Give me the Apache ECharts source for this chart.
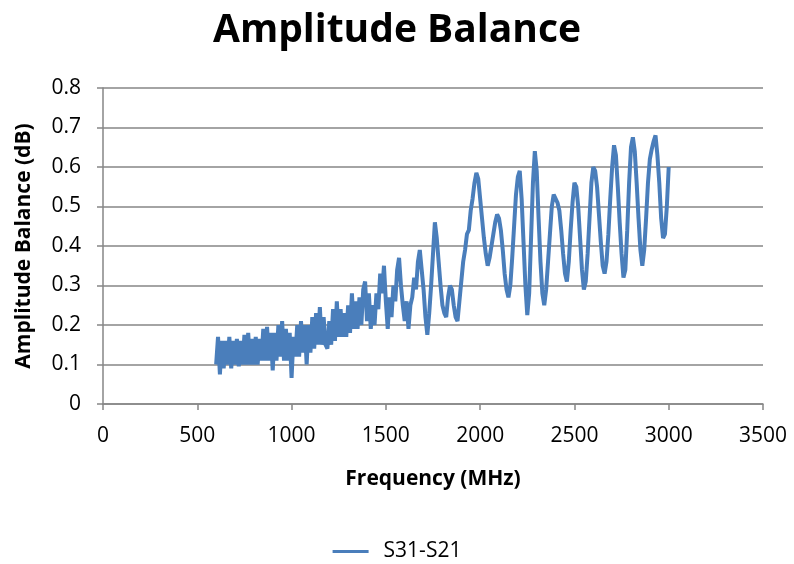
<!DOCTYPE html>
<html>
<head>
<meta charset="utf-8">
<script src="https://cdn.jsdelivr.net/npm/echarts@6/dist/echarts.min.js"></script>
<style>
  html, body { margin: 0; padding: 0; background: #fff; }
  #main { width: 794px; height: 564px; }
</style>
</head>
<body>
<div id="main"></div>
<script>
  // sweep: first frequency and step (MHz), one value per step
  var freqStart = 600;
  var freqStep = 10;

  // 600 .. 1500 MHz (noisy part)
  var balLow = [
    0.10, 0.17, 0.075, 0.16, 0.09, 0.16, 0.10, 0.17, 0.09, 0.16,
    0.10, 0.165, 0.095, 0.16, 0.10, 0.175, 0.10, 0.18, 0.10, 0.165,
    0.10, 0.17, 0.10, 0.165, 0.11, 0.19, 0.11, 0.195, 0.11, 0.18,
    0.085, 0.18, 0.11, 0.20, 0.12, 0.21, 0.11, 0.19, 0.11, 0.18,
    0.066, 0.17, 0.12, 0.20, 0.12, 0.21, 0.13, 0.20, 0.10, 0.20,
    0.13, 0.22, 0.14, 0.23, 0.15, 0.245, 0.15, 0.22, 0.15, 0.14,
    0.21, 0.15, 0.24, 0.16, 0.26, 0.17, 0.24, 0.17, 0.23, 0.17,
    0.25, 0.18, 0.28, 0.19, 0.26, 0.19, 0.27, 0.20, 0.29, 0.31,
    0.21, 0.28, 0.19, 0.25, 0.20, 0.28, 0.24, 0.33, 0.28, 0.35,
    0.26
  ];

  // 1510 .. 3000 MHz
  var balHigh = [
    0.19, 0.27, 0.22, 0.30, 0.26, 0.34, 0.37, 0.30, 0.25, 0.21,
    0.26, 0.19, 0.25, 0.27, 0.32, 0.29, 0.36, 0.39, 0.34, 0.29,
    0.22, 0.175, 0.23, 0.30, 0.38, 0.46, 0.42, 0.36, 0.30, 0.25,
    0.23, 0.22, 0.27, 0.30, 0.29, 0.25, 0.22, 0.21, 0.26, 0.31,
    0.36, 0.39, 0.43, 0.44, 0.49, 0.52, 0.56, 0.585, 0.57, 0.52,
    0.47, 0.42, 0.38, 0.35, 0.37, 0.40, 0.43, 0.46, 0.48, 0.47,
    0.44, 0.39, 0.33, 0.29, 0.27, 0.30, 0.37, 0.45, 0.53, 0.575,
    0.59, 0.52, 0.41, 0.30, 0.225, 0.28, 0.42, 0.56, 0.64, 0.59,
    0.47, 0.36, 0.28, 0.25, 0.29, 0.36, 0.43, 0.50, 0.53, 0.53,
    0.51, 0.49, 0.44, 0.38, 0.33, 0.31, 0.36, 0.44, 0.51, 0.56,
    0.55, 0.50, 0.42, 0.34, 0.29, 0.31, 0.38, 0.47, 0.56, 0.60,
    0.59, 0.55, 0.48, 0.41, 0.35, 0.33, 0.36, 0.43, 0.52, 0.60,
    0.655, 0.63, 0.55, 0.46, 0.38, 0.32, 0.34, 0.44, 0.56, 0.65,
    0.675, 0.64, 0.56, 0.47, 0.39, 0.35, 0.39, 0.47, 0.56, 0.62,
    0.645, 0.665, 0.68, 0.63, 0.56, 0.47, 0.42, 0.43, 0.50, 0.60
  ];

  var seriesName = 'S31-S21';

  var values = balLow.concat(balHigh);
  var points = values.map(function (v, i) {
    return [freqStart + i * freqStep, v];
  });

  var font = '"Open Sans", "Liberation Sans", sans-serif';
  var chart = echarts.init(document.getElementById('main'));

  var option = {
    animation: false,
    title: {
      text: 'Amplitude Balance',
      left: 'center',
      top: 6,
      textStyle: { fontFamily: font, fontSize: 39, fontWeight: 'bold', color: '#000' }
    },
    legend: {
      top: 536,
      left: 'center',
      data: [seriesName],
      itemWidth: 36,
      itemHeight: 3,
      icon: 'rect',
      textStyle: { fontFamily: font, fontSize: 21, color: '#000', padding: [0, 0, 0, 10] }
    },
    grid: { left: 103, right: 31, top: 88, bottom: 160, outerBoundsMode: 'none' },
    xAxis: {
      type: 'value',
      min: 0,
      max: 3500,
      interval: 500,
      name: 'Frequency (MHz)',
      nameLocation: 'middle',
      nameGap: 65,
      nameTextStyle: { fontFamily: font, fontSize: 21, fontWeight: 'bold', color: '#000' },
      axisLine: { lineStyle: { color: '#868686', width: 1.5 } },
      axisTick: { show: true, length: 6, lineStyle: { color: '#868686', width: 1.5 } },
      axisLabel: {
        fontFamily: font, fontSize: 21, color: '#000', margin: 22,
        formatter: function (v) { return String(v); }
      },
      splitLine: { show: false }
    },
    yAxis: {
      type: 'value',
      min: 0,
      max: 0.8,
      interval: 0.1,
      name: 'Amplitude Balance (dB)',
      nameLocation: 'middle',
      nameGap: 68,
      nameTextStyle: { fontFamily: font, fontSize: 21, fontWeight: 'bold', color: '#000' },
      axisLine: { show: true, lineStyle: { color: '#868686', width: 1.5 } },
      axisTick: { show: true, length: 6, lineStyle: { color: '#868686', width: 1.5 } },
      axisLabel: {
        fontFamily: font, fontSize: 21, color: '#000', margin: 22,
        formatter: function (v) { return v === 0 ? '0' : v.toFixed(1); }
      },
      splitLine: { show: true, lineStyle: { color: '#868686', width: 1.5 } }
    },
    series: [
      {
        name: seriesName,
        type: 'line',
        data: points,
        showSymbol: false,
        symbol: 'none',
        lineStyle: { color: '#4a7ebb', width: 4 },
        itemStyle: { color: '#4a7ebb' }
      }
    ]
  };

  chart.setOption(option);
</script>
</body>
</html>
